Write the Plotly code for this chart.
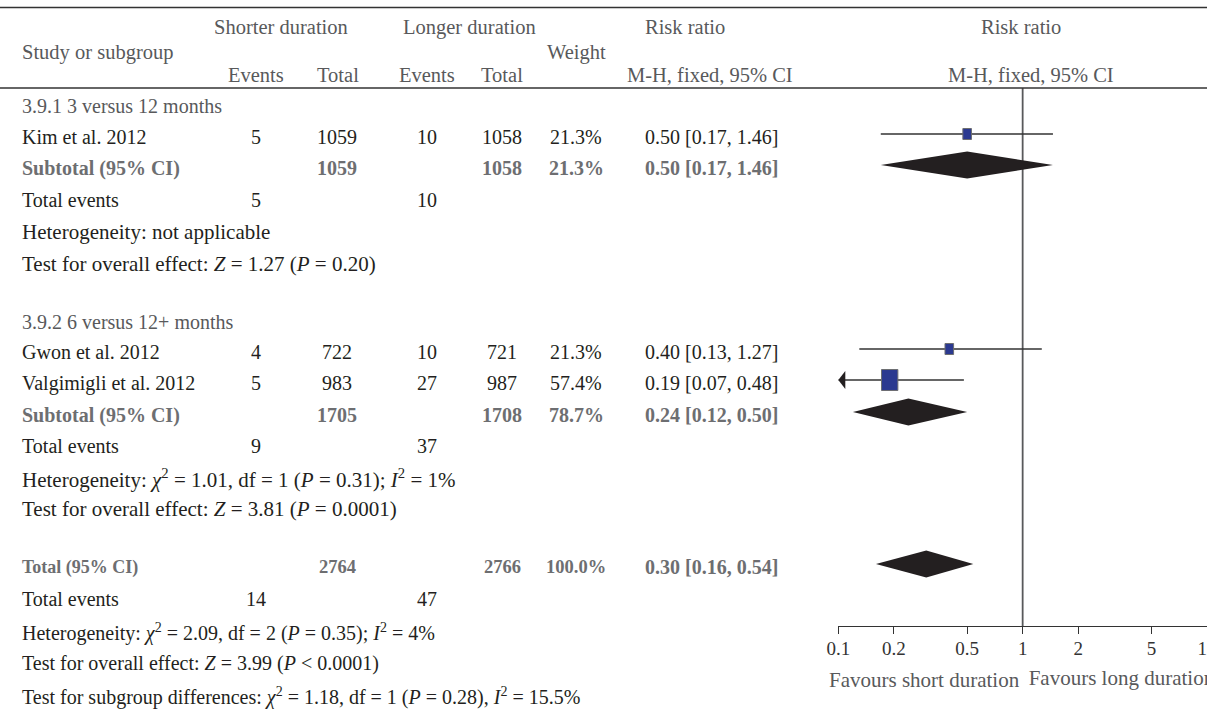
import plotly.graph_objects as go

# ---------------- data ----------------
study_labels = ["Kim et al. 2012", "Gwon et al. 2012", "Valgimigli et al. 2012"]
study_group = [0, 1, 1]
short_events = [5, 4, 5]
short_total = [1059, 722, 983]
long_events = [10, 10, 27]
long_total = [1058, 721, 987]
weights = [21.3, 21.3, 57.4]
rr = [0.50, 0.40, 0.19]
ci_low = [0.17, 0.13, 0.07]
ci_high = [1.46, 1.27, 0.48]

subgroup_titles = ["3.9.1 3 versus 12 months", "3.9.2 6 versus 12+ months"]
sub_short_events = [5, 9]
sub_long_events = [10, 37]
sub_short_total = [1059, 1705]
sub_long_total = [1058, 1708]
sub_weight = [21.3, 78.7]
sub_rr = [0.50, 0.24]
sub_low = [0.17, 0.12]
sub_high = [1.46, 0.50]
sub_het = ["Heterogeneity: not applicable",
           "Heterogeneity: <i>χ</i><sup>2</sup> = 1.01, df = 1 (<i>P</i> = 0.31); <i>I</i><sup>2</sup> = 1%"]
sub_test = ["Test for overall effect: <i>Z</i> = 1.27 (<i>P</i> = 0.20)",
            "Test for overall effect: <i>Z</i> = 3.81 (<i>P</i> = 0.0001)"]

total_short_events = 14
total_long_events = 47
total_short_total = 2764
total_long_total = 2766
total_weight = 100.0
total_rr = 0.30
total_low = 0.16
total_high = 0.54
total_het = "Heterogeneity: <i>χ</i><sup>2</sup> = 2.09, df = 2 (<i>P</i> = 0.35); <i>I</i><sup>2</sup> = 4%"
total_test = "Test for overall effect: <i>Z</i> = 3.99 (<i>P</i> < 0.0001)"
subgroup_diff = "Test for subgroup differences: <i>χ</i><sup>2</sup> = 1.18, df = 1 (<i>P</i> = 0.28), <i>I</i><sup>2</sup> = 15.5%"

tick_values = [0.1, 0.2, 0.5, 1, 2, 5, 10]
tick_labels = ["0.1", "0.2", "0.5", "1", "2", "5", "10"]
favours_left = "Favours short duration"
favours_right = "Favours long duration"

# ---------------- layout constants ----------------
W, H = 1207, 716
FONT = "Liberation Serif"
FS = 20
FS_HDR = 20.5
FS_STAT = 21
FS_FAV = 21
BLACK = "#231F20"
GRAY = "#6D6E71"
HDR = "#58595B"
AX_Y = 626            # pixel row of the forest axis
HEAD_LINE = 88
DOM0 = 838.3 / W
PPD = W * (1 - DOM0) / 2.0   # pixels per decade
PAD = 40                     # extra room left of the clipping axis

COL_LABEL = 20
COL_SE, COL_ST, COL_LE, COL_LT, COL_W, COL_RR = 256, 337, 427, 502, 576, 643

# y pixel of each text row (layout)
ROW_Y = [106, 137, 168, 200, 232, 264, 322, 352, 383, 415, 446, 478, 509,
         567, 599, 632, 663, 696]

fig = go.Figure()
ann = []


def txt(x, y, s, color=BLACK, bold=False, anchor="left", size=FS):
    if bold:
        s = "<b>" + s + "</b>"
    ann.append(dict(x=x / W, y=y, xref="paper", yref="y", text=s, showarrow=False,
                    xanchor=anchor, yanchor="middle",
                    font=dict(family=FONT, size=size, color=color)))


def xoff(v, dpx):
    return v * 10 ** (dpx / PPD)


def fmt_rr(r, lo, hi):
    return f"{r:.2f} [{lo:.2f}, {hi:.2f}]"


# header
txt(COL_LABEL, 52, "Study or subgroup", HDR, size=FS_HDR)
txt(281, 27, "Shorter duration", HDR, anchor="center", size=FS_HDR)
txt(469, 27, "Longer duration", HDR, anchor="center", size=FS_HDR)
txt(COL_SE, 75, "Events", HDR, anchor="center", size=FS_HDR)
txt(338, 75, "Total", HDR, anchor="center", size=FS_HDR)
txt(COL_LE, 75, "Events", HDR, anchor="center", size=FS_HDR)
txt(COL_LT, 75, "Total", HDR, anchor="center", size=FS_HDR)
txt(COL_W, 52, "Weight", HDR, anchor="center", size=FS_HDR)
txt(685, 27, "Risk ratio", HDR, anchor="center", size=FS_HDR)
txt(710, 75, "M-H, fixed, 95% CI", HDR, anchor="center", size=FS_HDR)
txt(1021, 27, "Risk ratio", HDR, anchor="center", size=FS_HDR)
txt(1031, 75, "M-H, fixed, 95% CI", HDR, anchor="center", size=FS_HDR)


def diamond(y, lo, r, hi):
    fig.add_trace(go.Scatter(x=[lo, r, hi, r, lo], y=[y, y - 13.5, y, y + 13.5, y],
                             mode="lines", fill="toself", fillcolor=BLACK,
                             line=dict(width=0, color=BLACK), hoverinfo="skip"))


def study_mark(y, r, lo, hi, w):
    x0 = max(lo, tick_values[0])
    x1 = min(hi, tick_values[-1])
    fig.add_trace(go.Scatter(x=[x0, x1], y=[y, y], mode="lines",
                             line=dict(color="#333333", width=1.3), hoverinfo="skip"))
    if lo < tick_values[0]:
        fig.add_trace(go.Scatter(x=[x0, xoff(x0, 7), xoff(x0, 7), x0],
                                 y=[y, y - 9, y + 9, y], mode="lines", fill="toself",
                                 fillcolor=BLACK, line=dict(width=0, color=BLACK),
                                 hoverinfo="skip"))
    h = 11 * (w / 21.3) ** 0.65
    hw = h * 0.78 / 2
    fig.add_trace(go.Scatter(x=[xoff(r, -hw), xoff(r, hw), xoff(r, hw), xoff(r, -hw), xoff(r, -hw)],
                             y=[y - h / 2, y - h / 2, y + h / 2, y + h / 2, y - h / 2],
                             mode="lines", fill="toself", fillcolor="#2B3990",
                             line=dict(width=1, color=GRAY), hoverinfo="skip"))


# null line
fig.add_trace(go.Scatter(x=[1, 1], y=[HEAD_LINE, AX_Y], mode="lines",
                         line=dict(color=HDR, width=1.8), hoverinfo="skip"))

r_i = 0
for g in range(2):
    txt(COL_LABEL, ROW_Y[r_i], subgroup_titles[g], HDR)
    r_i += 1
    for i in range(len(study_labels)):
        if study_group[i] != g:
            continue
        y = ROW_Y[r_i]
        txt(COL_LABEL, y, study_labels[i])
        txt(COL_SE, y, str(short_events[i]), anchor="center")
        txt(COL_ST, y, str(short_total[i]), anchor="center")
        txt(COL_LE, y, str(long_events[i]), anchor="center")
        txt(COL_LT, y, str(long_total[i]), anchor="center")
        txt(COL_W, y, f"{weights[i]:.1f}%", anchor="center")
        txt(COL_RR, y, fmt_rr(rr[i], ci_low[i], ci_high[i]))
        study_mark(y - 3, rr[i], ci_low[i], ci_high[i], weights[i])
        r_i += 1
    y = ROW_Y[r_i]
    txt(COL_LABEL, y, "Subtotal (95% CI)", GRAY, True)
    txt(COL_ST, y, str(sub_short_total[g]), GRAY, True, "center")
    txt(COL_LT, y, str(sub_long_total[g]), GRAY, True, "center")
    txt(COL_W, y, f"{sub_weight[g]:.1f}%", GRAY, True, "center")
    txt(COL_RR, y, fmt_rr(sub_rr[g], sub_low[g], sub_high[g]), GRAY, True)
    diamond(y - 3, sub_low[g], sub_rr[g], sub_high[g])
    r_i += 1
    y = ROW_Y[r_i]
    txt(COL_LABEL, y, "Total events")
    txt(COL_SE, y, str(sub_short_events[g]), anchor="center")
    txt(COL_LE, y, str(sub_long_events[g]), anchor="center")
    r_i += 1
    txt(COL_LABEL, ROW_Y[r_i], sub_het[g], size=FS_STAT)
    r_i += 1
    txt(COL_LABEL, ROW_Y[r_i], sub_test[g], size=FS_STAT)
    r_i += 1

y = ROW_Y[r_i]
txt(COL_LABEL, y, "Total (95% CI)", GRAY, True, size=18)
txt(COL_ST, y, str(total_short_total), GRAY, True, "center", size=18.5)
txt(COL_LT, y, str(total_long_total), GRAY, True, "center", size=18.5)
txt(COL_W, y, f"{total_weight:.1f}%", GRAY, True, "center", size=18.5)
txt(COL_RR, y, fmt_rr(total_rr, total_low, total_high), GRAY, True)
diamond(y - 3, total_low, total_rr, total_high)
r_i += 1
y = ROW_Y[r_i]
txt(COL_LABEL, y, "Total events")
txt(COL_SE, y, str(total_short_events), anchor="center")
txt(COL_LE, y, str(total_long_events), anchor="center")
r_i += 1
txt(COL_LABEL, ROW_Y[r_i], total_het)
r_i += 1
txt(COL_LABEL, ROW_Y[r_i], total_test)
r_i += 1
txt(COL_LABEL, ROW_Y[r_i], subgroup_diff)

# favours label on the left side of the null line (fits inside the page)
txt(1022, 680, favours_left, HDR, anchor="right", size=FS_FAV)

# tick labels and right favours label: drawn on a clipping axis so that the
# part running past the right page edge is cut off, as in the reference
fig.add_trace(go.Scatter(x=tick_values, y=[650] * len(tick_values), mode="text",
                         text=tick_labels, textposition="middle center",
                         textfont=dict(family=FONT, size=19, color="#333333"),
                         cliponaxis=True, xaxis="x2", yaxis="y", hoverinfo="skip"))
fig.add_trace(go.Scatter(x=[xoff(1, 6)], y=[680], mode="text", text=[favours_right],
                         textposition="middle right",
                         textfont=dict(family=FONT, size=FS_FAV, color=HDR),
                         cliponaxis=True, xaxis="x2", yaxis="y", hoverinfo="skip"))

shapes = [
    dict(type="line", xref="paper", yref="y", x0=0, x1=1, y0=7.5, y1=7.5,
         line=dict(color="#333333", width=1.5)),
    dict(type="line", xref="paper", yref="y", x0=0, x1=1, y0=HEAD_LINE, y1=HEAD_LINE,
         line=dict(color="#333333", width=1.5)),
]

fig.update_layout(
    width=W, height=H, margin=dict(l=0, r=0, t=0, b=0),
    paper_bgcolor="white", plot_bgcolor="rgba(0,0,0,0)",
    showlegend=False, annotations=ann, shapes=shapes,
    xaxis=dict(type="log", range=[-1, 1], domain=[DOM0, 1], anchor="free",
               position=(H - AX_Y) / H, showline=True, linecolor="#333333",
               linewidth=1.3, ticks="outside", ticklen=7, tickwidth=1.3,
               tickcolor="#333333", tickvals=tick_values, showticklabels=False,
               showgrid=False, zeroline=False, fixedrange=True),
    xaxis2=dict(type="log", range=[-1 - PAD / PPD, 1], domain=[DOM0 - PAD / W, 1],
                anchor="y", visible=False, fixedrange=True),
    yaxis=dict(range=[H, 0], domain=[0, 1], visible=False, fixedrange=True),
)

fig.write_html("out.html", config={"displayModeBar": False},
               post_script="document.documentElement.style.overflow='hidden';"
                           "document.body.style.margin='0';document.body.style.overflow='hidden';")
